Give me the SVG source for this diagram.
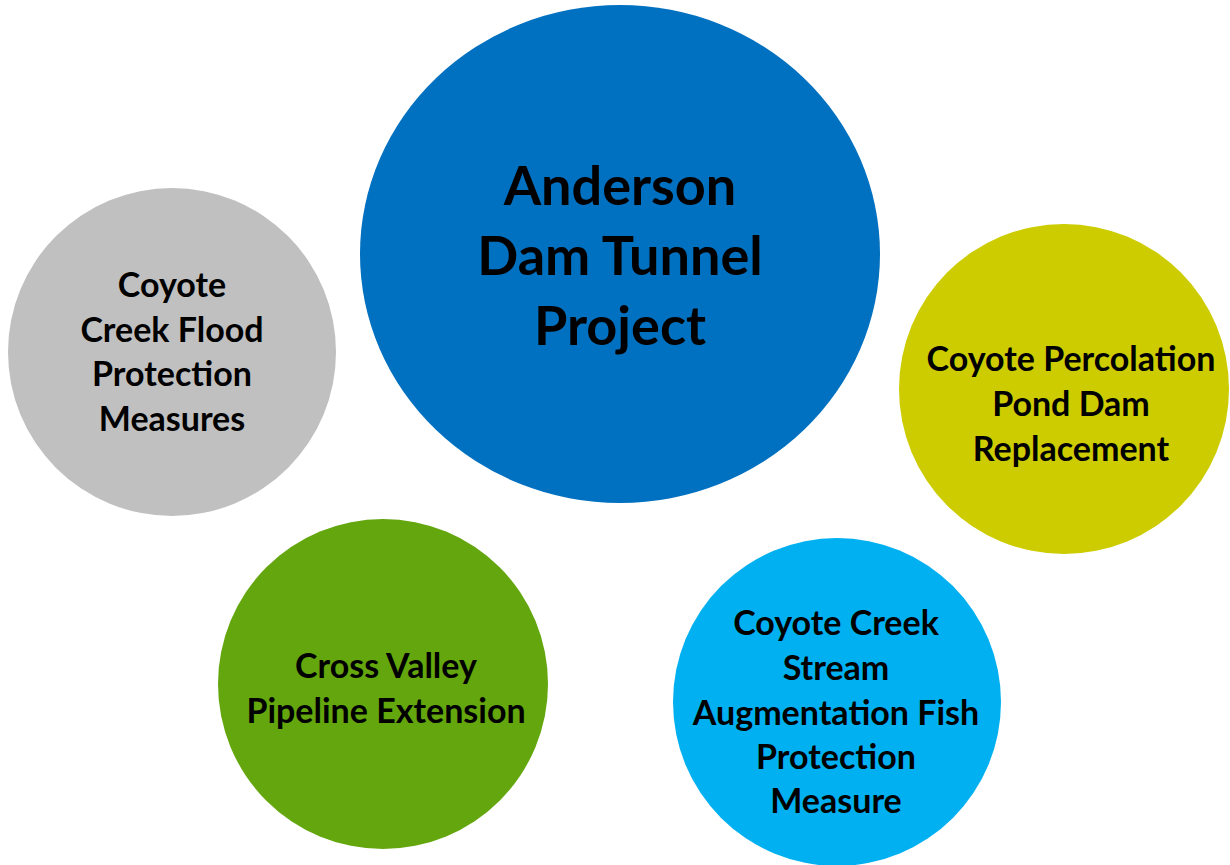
<svg xmlns="http://www.w3.org/2000/svg" width="1230" height="865" viewBox="0 0 1230 865">
<style>
text{font-family:Lato,"Open Sans","Liberation Sans",sans-serif;font-weight:bold;fill:#000;text-anchor:middle}
.big{font-size:54px}
.sm{font-size:34px}
</style>
<rect width="1230" height="865" fill="#fff"/>
<g id="n-anderson">
<ellipse cx="620" cy="254" rx="260" ry="249" fill="#0070C0"/>
<text class="big" x="620" y="205">Anderson</text>
<text class="big" x="620" y="275">Dam Tunnel</text>
<text class="big" x="620" y="345">Project</text>
</g>
<g id="n-flood">
<circle cx="172" cy="352" r="164" fill="#C0C0C0"/>
<text class="sm" x="172" y="297">Coyote</text>
<text class="sm" x="172" y="342">Creek Flood</text>
<text class="sm" x="172" y="386">Protection</text>
<text class="sm" x="172" y="431">Measures</text>
</g>
<g id="n-percolation">
<circle cx="1064" cy="389" r="165" fill="#CCCC00"/>
<text class="sm" x="1071" y="371">Coyote Percolation</text>
<text class="sm" x="1071" y="416">Pond Dam</text>
<text class="sm" x="1071" y="461">Replacement</text>
</g>
<g id="n-pipeline">
<circle cx="383" cy="684" r="165" fill="#63A60D"/>
<text class="sm" x="386" y="678">Cross Valley</text>
<text class="sm" x="386" y="723">Pipeline Extension</text>
</g>
<g id="n-stream">
<circle cx="837" cy="702" r="164" fill="#00B0F0"/>
<text class="sm" x="836" y="635">Coyote Creek</text>
<text class="sm" x="836" y="680">Stream</text>
<text class="sm" x="836" y="725">Augmentation Fish</text>
<text class="sm" x="836" y="769">Protection</text>
<text class="sm" x="836" y="813">Measure</text>
</g>
<g id="connectors"></g>
</svg>
